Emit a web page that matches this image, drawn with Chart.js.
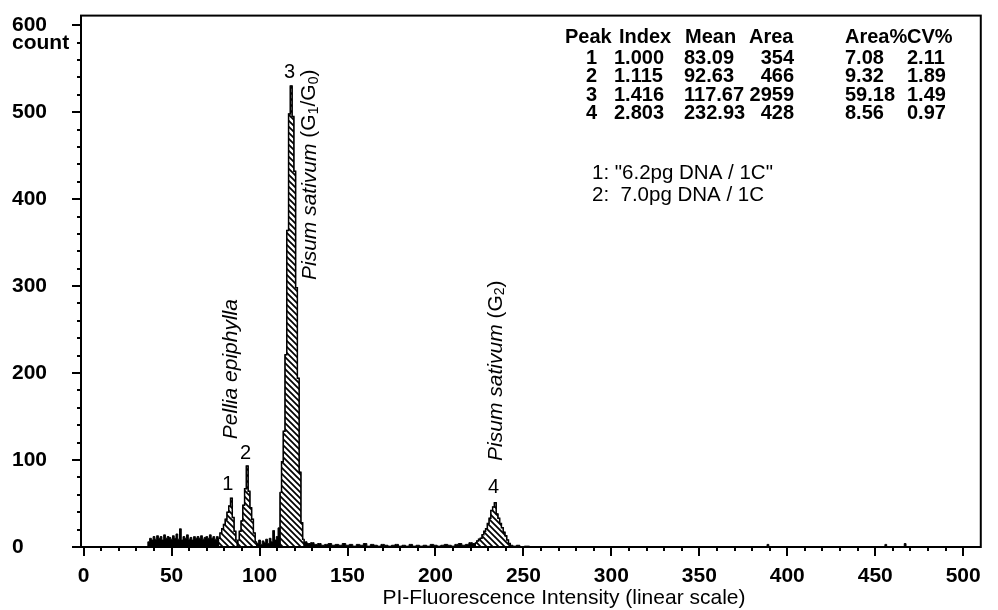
<!DOCTYPE html>
<html>
<head>
<meta charset="utf-8">
<script src="https://cdn.jsdelivr.net/npm/chart.js@4.4.0/dist/chart.umd.min.js"></script>
<style>
html, body { margin: 0; padding: 0; background: #fff; }
#wrap { width: 998px; height: 610px; position: relative; }
</style>
</head>
<body>
<div id="wrap"><canvas id="myChart"></canvas></div>
<script>
// histogram, channel = PI intensity, count per channel
var debrisChannels = [36,37,38,39,40,41,42,43,44,45,46,47,48,49,50,51,52,53,54,55,56,57,58,59,60,61,62,63,64,65,66,67,68,69,70,71,72,73,74,75,76];
var debrisCounts   = [0,6,10,8,12,9,13,10,12,8,14,10,12,11,9,13,10,15,9,21,8,12,10,14,9,11,8,12,10,12,10,13,9,11,12,10,14,10,12,9,12];

var peak1Channels = [77,78,79,80,81,82,83,84,85,86,87];
var peak1Counts   = [10,16,21,26,32,40,47,56,34,18,8];

var peak2Channels = [88,89,90,91,92,93,94,95,96,97,98];
var peak2Counts   = [8,18,30,48,67,93,64,45,32,16,6];

var gapChannels = [99,100,101,102,103,104,105,106,107,108,109,110,111];
var gapCounts   = [4,8,3,7,5,9,4,10,6,19,8,12,22];

var peak3Channels = [112,113,114,115,116,117,118,119,120,121,122,123,124,125];
var peak3Counts   = [63,98,133,221,364,498,530,495,432,298,194,86,28,9];

var tailChannels = [126,128,130,132,134,136,138,140,142,144,146,148,150,152,154,156,158,160,162,164,166,168,170,172,174,176,178,180,182,184,186,188,190,192,194,196,198,200,202,204,206,208,210,212,214,216,218,220,222];
var tailCounts   = [6,4,5,3,4,2,3,4,2,3,2,4,2,3,1,3,2,4,1,3,2,1,3,2,1,2,3,1,2,1,3,1,2,1,2,1,3,2,1,2,3,2,1,3,4,2,3,5,4];

var peak4Channels = [223,224,225,226,227,228,229,230,231,232,233,234,235,236,237,238,239,240,241,242,243];
var peak4Counts   = [5,7,9,10,14,18,21,27,33,42,46,51,38,33,27,22,17,13,8,4,2];

var farChannels = [245,247,249,252,255,388,389,390,455,456,457,466,467,468];
var farCounts   = [1,2,0,1,0,0,3,0,0,3,0,0,4,0];

var xTicks = [0,50,100,150,200,250,300,350,400,450,500];
var yTicks = [0,100,200,300,400,500,600];

var tableHead = ['Peak','Index','Mean','Area','Area%','CV%'];
var tableRows = [
    ['1','1.000','83.09','354','7.08','2.11'],
    ['2','1.115','92.63','466','9.32','1.89'],
    ['3','1.416','117.67','2959','59.18','1.49'],
    ['4','2.803','232.93','428','8.56','0.97']
];

function toPoints(ch, ct) {
    return ch.map(function(c, i){ return {x: c, y: ct[i]}; });
}

var allPoints = [].concat(
    toPoints(debrisChannels, debrisCounts),
    toPoints(peak1Channels, peak1Counts),
    toPoints(peak2Channels, peak2Counts),
    toPoints(gapChannels, gapCounts),
    toPoints(peak3Channels, peak3Counts),
    toPoints(tailChannels, tailCounts),
    toPoints(peak4Channels, peak4Counts),
    toPoints(farChannels, farCounts)
);

const ctx = document.getElementById('myChart');

// white with black diagonal stripes for the gated peaks
function makeHatch() {
    var c = document.createElement('canvas');
    c.width = 6; c.height = 6;
    var g = c.getContext('2d');
    g.fillStyle = '#fff';
    g.fillRect(0, 0, 6, 6);
    g.strokeStyle = '#000';
    g.lineWidth = 1.7;
    g.beginPath();
    g.moveTo(-1, -1); g.lineTo(7, 7);
    g.moveTo(-1, 5); g.lineTo(1, 7);
    g.moveTo(5, -1); g.lineTo(7, 1);
    g.stroke();
    return g.createPattern(c, 'repeat');
}
var hatch = makeHatch();

function gated(ch, ct) {
    return {
        data: toPoints(ch, ct),
        stepped: 'middle',
        fill: 'origin',
        backgroundColor: hatch,
        borderColor: '#000',
        borderWidth: 1.5,
        pointRadius: 0,
        order: 0
    };
}

function rotRuns(c, x, y, runs) {
    var cx = 0;
    c.save();
    c.translate(x, y);
    c.rotate(-Math.PI / 2);
    c.textAlign = 'left';
    c.textBaseline = 'middle';
    runs.forEach(function(r){
        c.font = r[1];
        c.fillText(r[0], cx, r[2] || 0);
        cx += c.measureText(r[0]).width;
    });
    c.restore();
}

var FAM = '"Liberation Sans", Arial, sans-serif';

var decor = {
    id: 'decor',
    afterDraw: function(chart) {
        var c = chart.ctx, a = chart.chartArea;
        var xs = chart.scales.x, ys = chart.scales.y;
        c.save();
        c.strokeStyle = '#000';
        c.fillStyle = '#000';
        c.lineWidth = 2;
        c.strokeRect(a.left, a.top, a.right - a.left, a.bottom - a.top);

        // ticks
        c.beginPath();
        for (var v = 0; v <= 500; v += 10) {
            var px = Math.round(xs.getPixelForValue(v));
            c.moveTo(px, a.bottom);
            c.lineTo(px, a.bottom + (v % 50 === 0 ? 9 : 4));
        }
        for (var w = 0; w <= 600; w += 20) {
            var py = Math.round(ys.getPixelForValue(w));
            c.moveTo(a.left, py);
            c.lineTo(a.left - (w % 100 === 0 ? 9 : 4), py);
        }
        c.stroke();

        c.textBaseline = 'middle';
        c.textAlign = 'left';
        c.font = 'bold 21px ' + FAM;
        c.fillText('count', 12, 43);

        // axis title
        c.textAlign = 'center';
        c.font = '21px ' + FAM;
        c.fillText('PI-Fluorescence Intensity (linear scale)', 564, 598);

        // peak numbers
        c.font = '20px ' + FAM;
        c.fillText('1', xs.getPixelForValue(82), ys.getPixelForValue(72));
        c.fillText('2', xs.getPixelForValue(92), ys.getPixelForValue(108));
        c.fillText('3', xs.getPixelForValue(117), ys.getPixelForValue(546));
        c.fillText('4', xs.getPixelForValue(233), ys.getPixelForValue(68));

        var it = 'italic 21px ' + FAM;
        var rg = '21px ' + FAM;
        var sb = '14px ' + FAM;
        rotRuns(c, xs.getPixelForValue(84), ys.getPixelForValue(124), [['Pellia epiphylla', it]]);
        rotRuns(c, xs.getPixelForValue(128.5), ys.getPixelForValue(307),
            [['Pisum sativum', it], [' (G', rg], ['1', sb, 4], ['/G', rg], ['0', sb, 4], [')', rg]]);
        rotRuns(c, xs.getPixelForValue(234.5), ys.getPixelForValue(99),
            [['Pisum sativum', it], [' (G', rg], ['2', sb, 4], [')', rg]]);

        // results table
        c.font = 'bold 20px ' + FAM;
        c.textAlign = 'left';
        var hx = [565, 619, 685, 749, 845, 907];
        tableHead.forEach(function(h, i){ c.fillText(h, hx[i], 37); });
        var colX = [597, 614, 684, 794, 845, 907];
        var colAlign = ['right','left','left','right','left','left'];
        tableRows.forEach(function(r, j){
            r.forEach(function(t, i){
                c.textAlign = colAlign[i];
                c.fillText(t, colX[i], 58 + j * 18.5);
            });
        });

        c.textAlign = 'left';
        c.font = '20.5px ' + FAM;
        c.fillText('1: "6.2pg DNA / 1C"', 592, 173);
        c.fillText('2:  7.0pg DNA / 1C', 592, 195);
        c.restore();
    }
};

var graphData = {
    type: 'line',
    data: {
        datasets: [
            gated(peak1Channels, peak1Counts),
            gated(peak2Channels, peak2Counts),
            gated(peak3Channels, peak3Counts),
            gated(peak4Channels, peak4Counts),
            {
                data: allPoints,
                stepped: 'middle',
                fill: 'origin',
                backgroundColor: '#000',
                borderColor: '#000',
                borderWidth: 1,
                pointRadius: 0,
                order: 1
            }
        ]
    },
    options: {
        responsive: true,
        maintainAspectRatio: false,
        animation: false,
        devicePixelRatio: 1,
        layout: { padding: { left: 12, right: 15, top: 11, bottom: 0 } },
        plugins: { legend: { display: false }, tooltip: { enabled: false } },
        scales: {
            x: {
                type: 'linear',
                min: -1.5,
                max: 510,
                afterBuildTicks: function(s){ s.ticks = xTicks.map(function(v){ return {value: v}; }); },
                afterFit: function(s){ s.height = 63; },
                grid: { display: false, drawTicks: false },
                border: { display: false },
                ticks: {
                    color: '#000',
                    padding: 17,
                    maxRotation: 0,
                    autoSkip: false,
                    font: { family: FAM, size: 21, weight: 'bold' }
                }
            },
            y: {
                min: 0,
                max: 611,
                afterBuildTicks: function(s){ s.ticks = yTicks.map(function(v){ return {value: v}; }); },
                afterFit: function(s){ s.width = 69; },
                grid: { display: false, drawTicks: false },
                border: { display: false },
                ticks: {
                    color: '#000',
                    crossAlign: 'far',
                    font: { family: FAM, size: 21, weight: 'bold' }
                }
            }
        }
    },
    plugins: [decor]
};
var myChart = new Chart(ctx, graphData);
</script>
</body>
</html>
